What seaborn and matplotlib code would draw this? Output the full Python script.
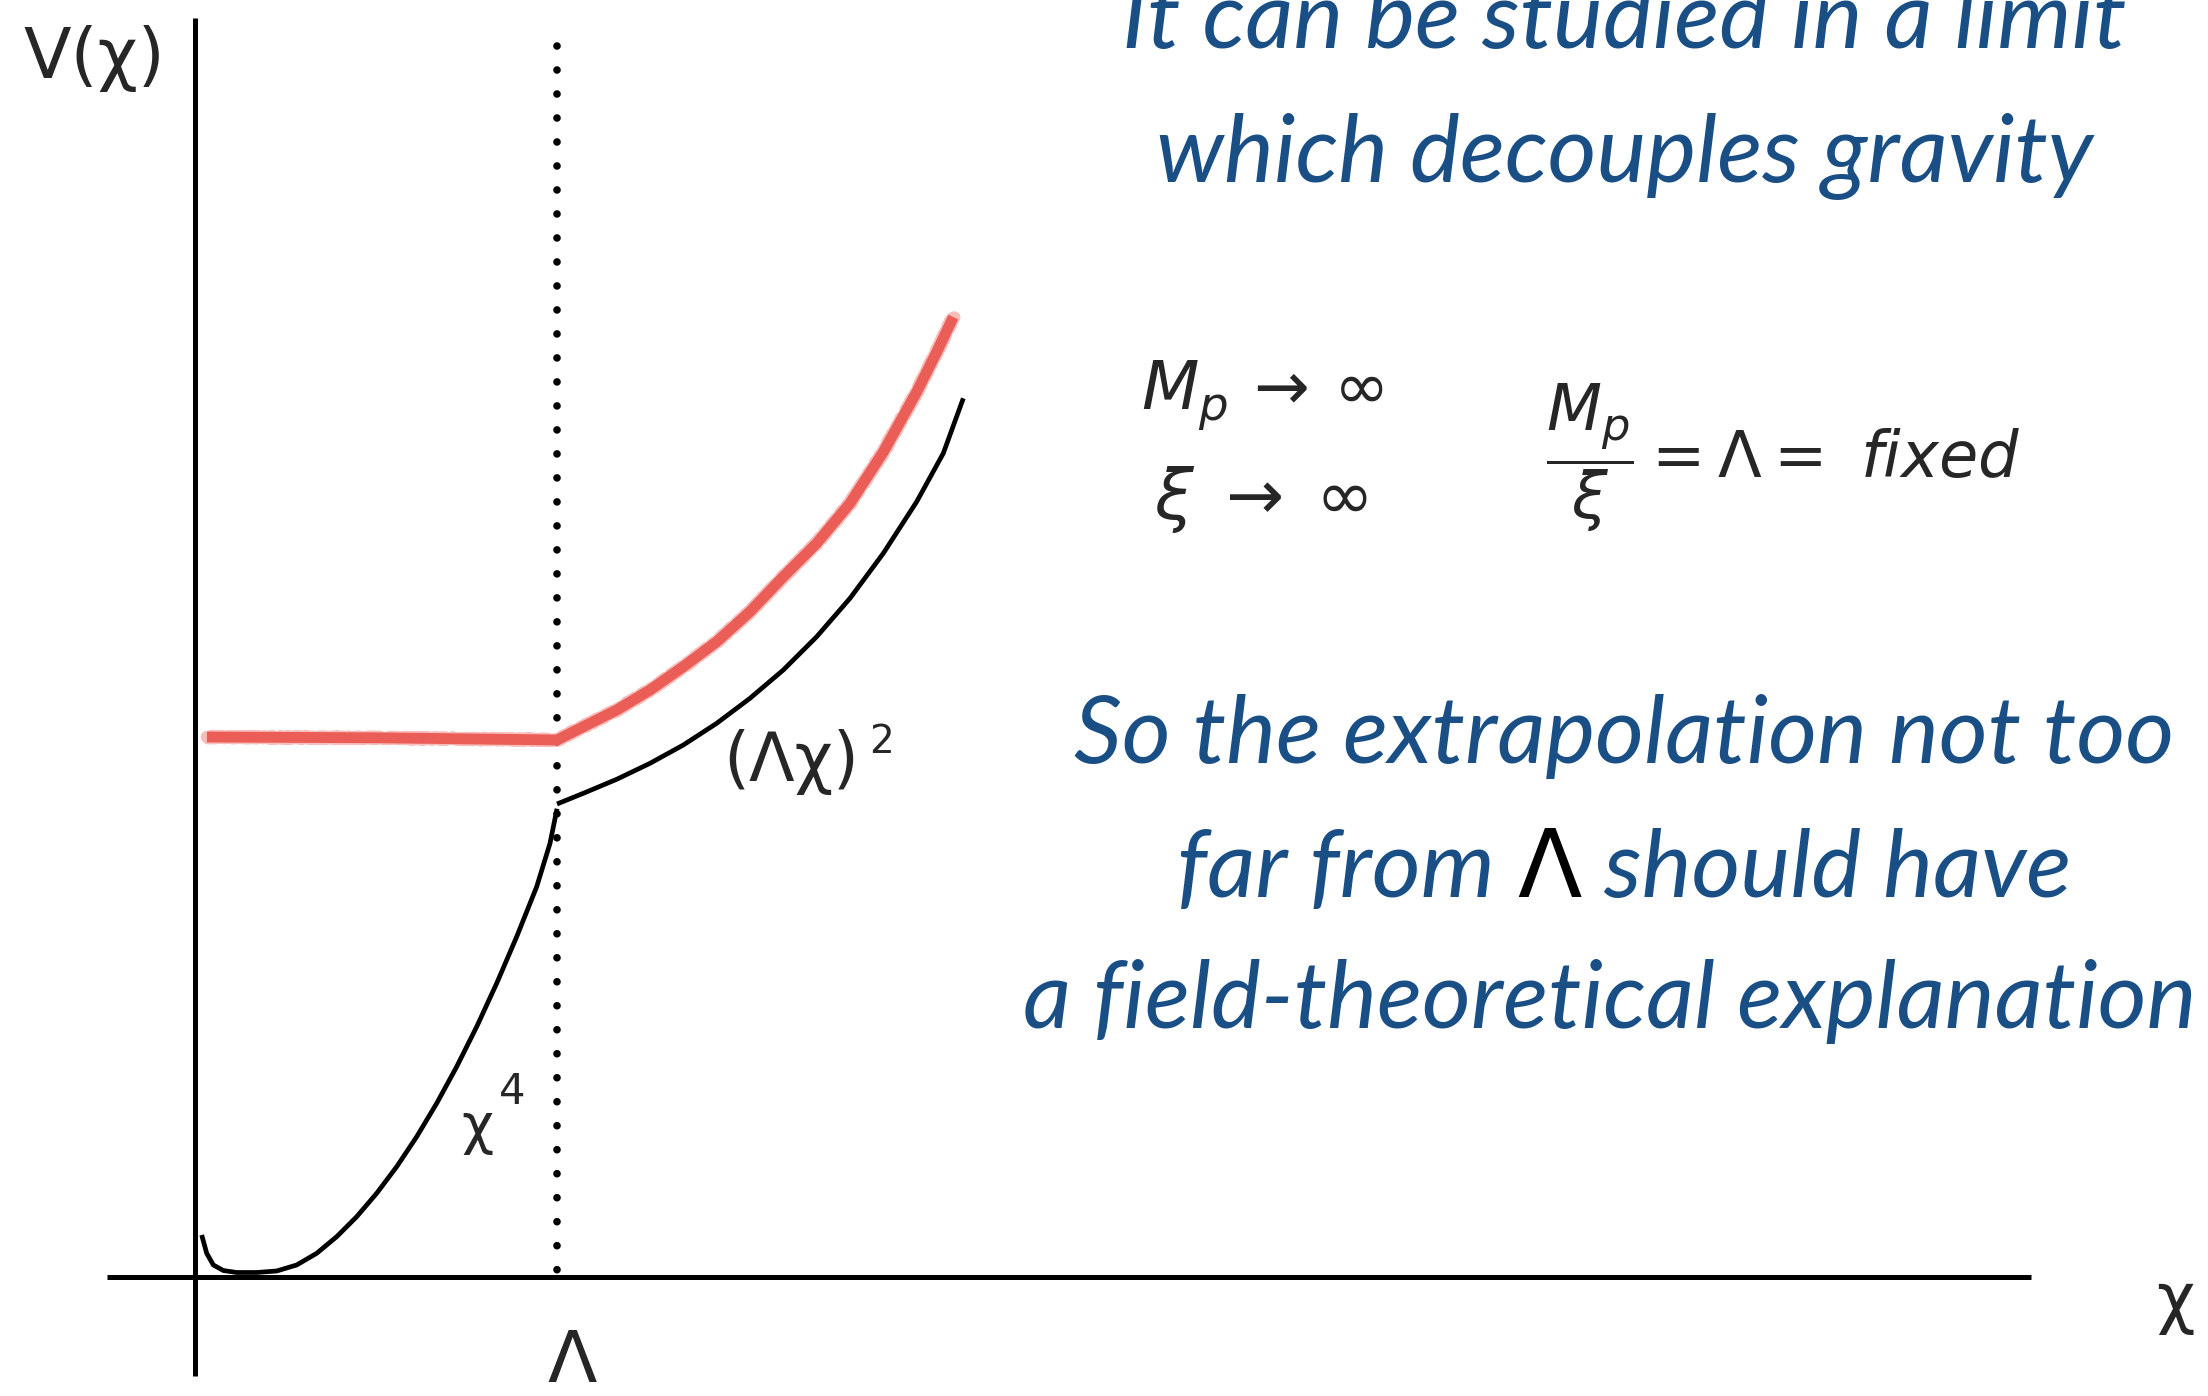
import matplotlib
matplotlib.use("Agg")
import matplotlib.pyplot as plt
import seaborn as sns

# V(chi) sketch: chi in units of the cutoff Lambda, V in units of V(Lambda)
# quartic branch below the cutoff
chi_quartic = [0.0185, 0.0323, 0.0506, 0.0782, 0.1152, 0.1704, 0.2257, 0.2809,
               0.3362, 0.3914, 0.4467, 0.5019, 0.5572, 0.6124, 0.6677, 0.7229,
               0.7782, 0.8334, 0.8887, 0.9439, 0.9807, 1.0000]
v_quartic = [0.0888, 0.0501, 0.0254, 0.0137, 0.0095, 0.0095, 0.0127, 0.0254,
             0.0501, 0.0852, 0.1275, 0.1770, 0.2332, 0.2966, 0.3672, 0.4446,
             0.5292, 0.6209, 0.7195, 0.8252, 0.9169, 0.9900]
# (Lambda chi)^2 branch above the cutoff
chi_quadratic = [1.0000, 1.0727, 1.1649, 1.2569, 1.3489, 1.4412, 1.5331,
                 1.6251, 1.7174, 1.8094, 1.9014, 1.9936, 2.0671, 2.1224]
v_quadratic = [1.0000, 1.0226, 1.0522, 1.0860, 1.1247, 1.1706, 1.2235,
               1.2833, 1.3537, 1.4349, 1.5300, 1.6391, 1.7414, 1.8577]
# red curve: plateau up to the cutoff, then rising
chi_red = [0.0331, 0.5000, 1.0000, 1.0727, 1.1649, 1.2569, 1.3489, 1.4412,
           1.5331, 1.6251, 1.7174, 1.8094, 1.9014, 1.9936, 2.0489, 2.0948]
v_red = [1.1416, 1.1400, 1.1353, 1.1634, 1.1987, 1.2410, 1.2903, 1.3431,
         1.4066, 1.4805, 1.5512, 1.6357, 1.7442, 1.8710, 1.9556, 2.0296]

# axes extents and cutoff marker
chi_axis = [-0.243, 5.072]
v_axis = [-0.209, 2.662]
chi_cutoff = [1.0, 1.0]
v_cutoff = [2.603, 0.015]

blue_lines_top = ["It can be studied in a limit", "which decouples gravity"]
blue_lines_bottom = ["So the extrapolation not too", "far from ", "\u039b",
                     " should have", "a field-theoretical explanation"]

BLUE = "#1A4F86"
RED = "#EB5E57"
W, H = 2208, 1396

sns.set_theme(style="white")
plt.rcParams["font.family"] = ["DejaVu Sans"]
plt.rcParams["mathtext.fontset"] = "dejavusans"

fig = plt.figure(figsize=(W / 100, H / 100), dpi=100)
fig.patch.set_facecolor("white")
ax = fig.add_axes([0, 0, 1, 1])
ax.set_xlim(-0.5387, 5.5608)
ax.set_ylim(-0.2516, 2.6998)
ax.axis("off")

# coordinate axes
ax.plot(chi_axis, [0, 0], color="black", lw=3.6, solid_capstyle="butt")
ax.plot([0, 0], v_axis, color="black", lw=3.6, solid_capstyle="butt")

# dotted cutoff line
ax.plot(chi_cutoff, v_cutoff, color="black", lw=5.5,
        linestyle=(0, (0.001, 3.14)), dash_capstyle="round")

# red crayon-like curve
sns.lineplot(x=chi_red, y=v_red, ax=ax, color=RED, lw=7.8, estimator=None,
             sort=False, solid_capstyle="butt", solid_joinstyle="round")
sns.lineplot(x=chi_red, y=v_red, ax=ax, color=RED, lw=9.0, estimator=None,
             sort=False, alpha=0.4)
ax.lines[-1].set_sketch_params(1.2, 2.5, 2)

# black potential
sns.lineplot(x=chi_quartic, y=v_quartic, ax=ax, color="black", lw=3.4,
             estimator=None, sort=False, solid_capstyle="butt",
             solid_joinstyle="round")
sns.lineplot(x=chi_quadratic, y=v_quadratic, ax=ax, color="black", lw=3.4,
             estimator=None, sort=False, solid_capstyle="butt",
             solid_joinstyle="round")


def fx(px):
    return px / W


def fy(py):
    return 1 - py / H


# black labels
fig.text(fx(23), fy(58), "V(\u03c7)", fontsize=50, ha="left", va="center")
fig.text(fx(2175), fy(1302), "\u03c7", fontsize=48, ha="center", va="center")
fig.text(fx(572), fy(1362), "\u039b", fontsize=52, ha="center", va="center")
fig.text(fx(477), fy(1128), "\u03c7", fontsize=40, ha="center", va="center")
fig.text(fx(512), fy(1092), "4", fontsize=30, ha="center", va="center")
fig.text(fx(791), fy(762), "(\u039b\u03c7)", fontsize=48, ha="center", va="center")
fig.text(fx(882), fy(742), "2", fontsize=28, ha="center", va="center")

# limit conditions
fig.text(fx(1141), fy(410), r"$M_p\,\rightarrow\,\infty$", fontsize=48,
         ha="left", va="baseline")
fig.text(fx(1154), fy(500), r"$\xi\;\rightarrow\;\infty$", fontsize=50,
         ha="left", va="center")
fig.text(fx(1546), fy(458), r"$\dfrac{M_p}{\xi} = \Lambda = $ $\mathit{fixed}$",
         fontsize=46, ha="left", va="center")

# blue handwritten notes, sized so the widest line spans its width
fig.canvas.draw()
renderer = fig.canvas.get_renderer()
blue_font = dict(family=["Lato", "DejaVu Sans"], style="italic", color=BLUE)

probe = fig.text(0, 0, blue_lines_bottom[0], fontsize=50, **blue_font)
w = probe.get_window_extent(renderer).width
probe.remove()
blue_size = 50 * 1102 / w
center = 1624

for txt, base in zip(blue_lines_top, [48, 182]):
    fig.text(fx(center), fy(base), txt, fontsize=blue_size, ha="center",
             va="baseline", **blue_font)
fig.text(fx(center), fy(763), blue_lines_bottom[0], fontsize=blue_size,
         ha="center", va="baseline", **blue_font)

# mixed-colour line: blue text with a black Lambda
pieces = [(blue_lines_bottom[1], blue_font),
          (blue_lines_bottom[2], dict(family=["DejaVu Sans"], color="black")),
          (blue_lines_bottom[3], blue_font)]
widths = []
for txt, fnt in pieces:
    t = fig.text(0, 0, txt, fontsize=blue_size, **fnt)
    widths.append(t.get_window_extent(renderer).width)
    t.remove()
x = center - sum(widths) / 2
for (txt, fnt), wd in zip(pieces, widths):
    fig.text(fx(x), fy(897), txt, fontsize=blue_size, ha="left",
             va="baseline", **fnt)
    x += wd

fig.text(fx(1023), fy(1028), blue_lines_bottom[4], fontsize=blue_size,
         ha="left", va="baseline", **blue_font)

fig.savefig("out.png", dpi=100, facecolor="white")
